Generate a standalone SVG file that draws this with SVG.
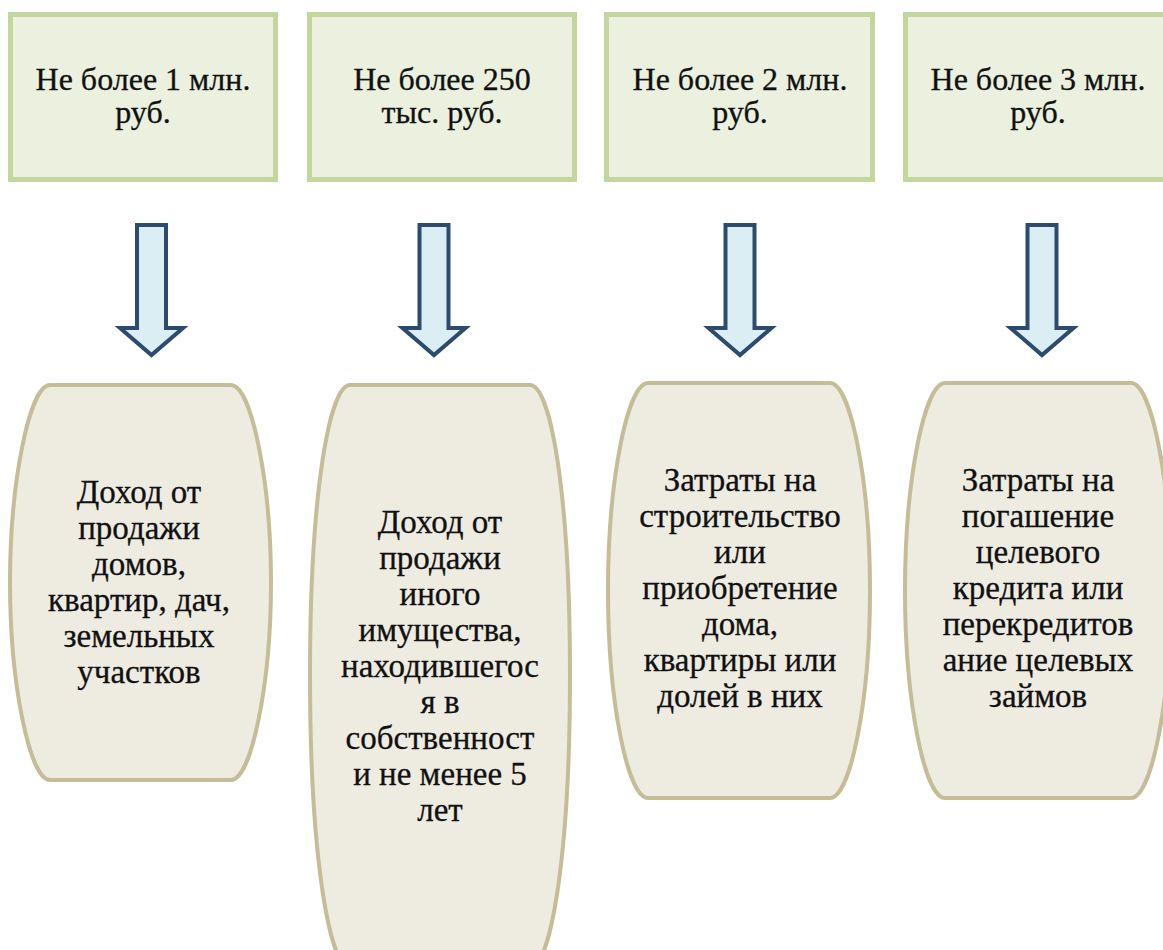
<svg xmlns="http://www.w3.org/2000/svg" width="1163" height="950" viewBox="0 0 1163 950">
<style>
.top{fill:#ebf1de;stroke:#c3d69b;stroke-width:5}
.bot{fill:#eeece1;stroke:#c4bd97;stroke-width:4}
.arr{fill:#dbeef4;stroke:#2d4b6e;stroke-width:4;stroke-linejoin:miter}
.t1{font-family:"Liberation Serif","Times New Roman",serif;font-size:32px;fill:#111;stroke:#111;stroke-width:0.3;text-anchor:middle}
.t2{font-family:"Liberation Serif","Times New Roman",serif;font-size:33px;fill:#111;stroke:#111;stroke-width:0.3;text-anchor:middle}
</style>
<rect width="1163" height="950" fill="#ffffff"/>
<g id="limit1">
<rect class="top" x="10.5" y="14.5" width="265" height="165"/>
<text class="t1" x="143" y="90">Не более 1 млн.</text>
<text class="t1" x="143" y="123">руб.</text>
</g>
<g id="limit2">
<rect class="top" x="309.5" y="14.5" width="265" height="165"/>
<text class="t1" x="442" y="90">Не более 250</text>
<text class="t1" x="442" y="123">тыс. руб.</text>
</g>
<g id="limit3">
<rect class="top" x="606.5" y="14.5" width="266" height="165"/>
<text class="t1" x="740" y="90">Не более 2 млн.</text>
<text class="t1" x="740" y="123">руб.</text>
</g>
<g id="limit4">
<rect class="top" x="905.5" y="14.5" width="266" height="165"/>
<text class="t1" x="1038" y="90">Не более 3 млн.</text>
<text class="t1" x="1038" y="123">руб.</text>
</g>
<g id="connectors">
<path class="arr" d="M137 225 H166 V328 H183 L151.5 355 L120 328 H137 Z"/>
<path class="arr" d="M419.5 225 H448.5 V328 H465.5 L434 355 L402.5 328 H419.5 Z"/>
<path class="arr" d="M725.5 225 H754.5 V328 H771.5 L740 355 L708.5 328 H725.5 Z"/>
<path class="arr" d="M1027.5 225 H1056.5 V328 H1073.5 L1042 355 L1010.5 328 H1027.5 Z"/>
</g>
<g id="income1">
<path class="bot" d="M50 385 H231 C251 385 271 480 271 582.5 C271 685 251 780 231 780 H50 C30 780 10 685 10 582.5 C10 480 30 385 50 385 Z"/>
<text class="t2" x="139" y="503">Доход от</text>
<text class="t2" x="139" y="539">продажи</text>
<text class="t2" x="139" y="575">домов,</text>
<text class="t2" x="139" y="611">квартир, дач,</text>
<text class="t2" x="139" y="647">земельных</text>
<text class="t2" x="139" y="683">участков</text>
</g>
<g id="income2">
<path class="bot" d="M350 385 H530 C550 385 570 490 570 675 C570 860 550 968 530 968 H350 C330 968 310 860 310 675 C310 490 330 385 350 385 Z"/>
<text class="t2" x="440" y="533">Доход от</text>
<text class="t2" x="440" y="569">продажи</text>
<text class="t2" x="440" y="605">иного</text>
<text class="t2" x="440" y="641">имущества,</text>
<text class="t2" x="440" y="677">находившегос</text>
<text class="t2" x="440" y="713">я в</text>
<text class="t2" x="440" y="749">собственност</text>
<text class="t2" x="440" y="785">и не менее 5</text>
<text class="t2" x="440" y="821">лет</text>
</g>
<g id="expense1">
<path class="bot" d="M648 383 H830 C850 383 870 478 870 590.5 C870 703 850 798 830 798 H648 C628 798 608 703 608 590.5 C608 478 628 383 648 383 Z"/>
<text class="t2" x="740" y="491">Затраты на</text>
<text class="t2" x="740" y="527">строительство</text>
<text class="t2" x="740" y="563">или</text>
<text class="t2" x="740" y="599">приобретение</text>
<text class="t2" x="740" y="635">дома,</text>
<text class="t2" x="740" y="671">квартиры или</text>
<text class="t2" x="740" y="707">долей в них</text>
</g>
<g id="expense2">
<path class="bot" d="M945 383 H1131 C1151 383 1171 478 1171 590.5 C1171 703 1151 798 1131 798 H945 C925 798 905 703 905 590.5 C905 478 925 383 945 383 Z"/>
<text class="t2" x="1038" y="491">Затраты на</text>
<text class="t2" x="1038" y="527">погашение</text>
<text class="t2" x="1038" y="563">целевого</text>
<text class="t2" x="1038" y="599">кредита или</text>
<text class="t2" x="1038" y="635">перекредитов</text>
<text class="t2" x="1038" y="671">ание целевых</text>
<text class="t2" x="1038" y="707">займов</text>
</g>
</svg>
